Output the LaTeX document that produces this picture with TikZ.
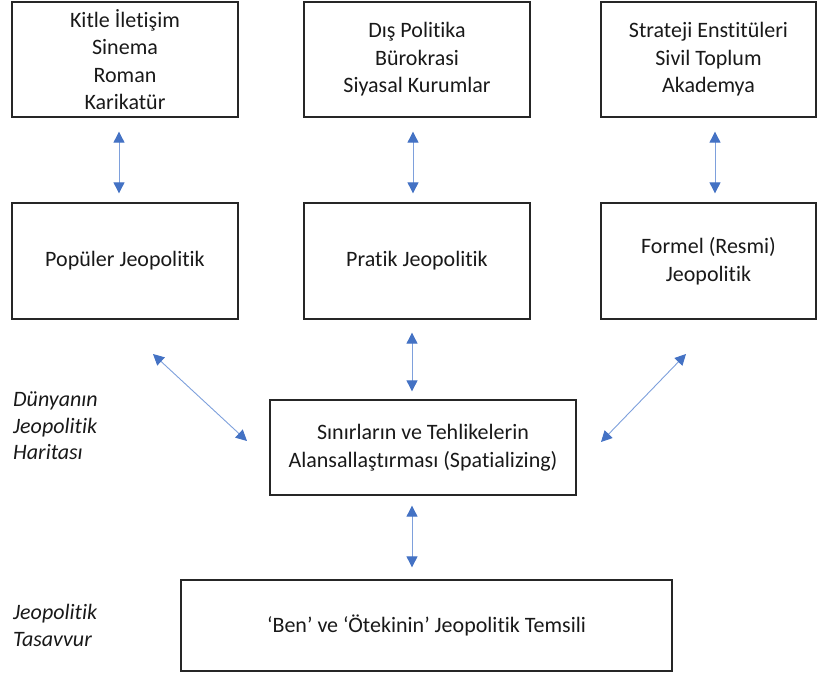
\documentclass[tikz,border=0pt]{standalone}
\usepackage{fontspec}
\setmainfont[Ligatures=NoCommon]{Carlito}
\usetikzlibrary{arrows.meta,calc}
\definecolor{arrblue}{HTML}{4472C4}
\definecolor{linblue}{HTML}{7EA0DC}
\begin{document}
\begin{tikzpicture}[x=1pt,y=-1pt,
  box/.style={draw=black!85, line width=1.3pt, inner sep=0pt, align=center,
    font=\fontsize{22}{27.5}\selectfont, text=black!90},
  arr/.style={draw=linblue, line width=0.9pt,
    {Triangle[length=11pt,width=11pt,fill=arrblue,color=arrblue]}-{Triangle[length=11pt,width=11pt,fill=arrblue,color=arrblue]}},
  side/.style={align=left, inner sep=0pt, anchor=west,
    font=\fontsize{22}{26.5}\selectfont\itshape, text=black!90}]
\useasboundingbox (0,0) rectangle (817,675);
% top row
\node[box, minimum width=226, minimum height=115] (A1) at (125,59.5) {Kitle İletişim\\Sinema\\Roman\\Karikatür};
\node[box, minimum width=226, minimum height=115] (A2) at (417,59.5) {Dış Politika\\Bürokrasi\\Siyasal Kurumlar};
\node[box, minimum width=215, minimum height=115] (A3) at (708.5,59.5) {Strateji Enstitüleri\\Sivil Toplum\\Akademya};
% middle row
\node[box, minimum width=226, minimum height=116] (B1) at (125,261) {Popüler Jeopolitik};
\node[box, minimum width=226, minimum height=116] (B2) at (417,261) {Pratik Jeopolitik};
\node[box, minimum width=215, minimum height=116] (B3) at (708.5,261) {Formel (Resmi)\\Jeopolitik};
% center
\node[box, minimum width=306, minimum height=95] (C) at (423,447.5) {Sınırların ve Tehlikelerin\\Alansallaştırması (Spatializing)};
% bottom
\node[box, minimum width=491, minimum height=91] (D) at (426.5,625.5) {‘Ben’ ve ‘Ötekinin’ Jeopolitik Temsili};
% side labels
\node[side] (L1) at (13,426) {Dünyanın\\Jeopolitik\\Haritası};
\node[side] (L2) at (13,625.5) {Jeopolitik\\Tasavvur};
% vertical arrows top
\draw[arr, shorten <=14pt, shorten >=9pt] ([xshift=-6]A1.south) -- ([xshift=-6]B1.north);
\draw[arr, shorten <=14pt, shorten >=9pt] ([xshift=-4]A2.south) -- ([xshift=-4]B2.north);
\draw[arr, shorten <=14pt, shorten >=9pt] ([xshift=6.5]A3.south) -- ([xshift=6.5]B3.north);
% middle vertical
\draw[arr, shorten <=13pt, shorten >=8pt] ([xshift=-5]B2.south) -- ([xshift=-11]C.north);
% bottom vertical
\draw[arr, shorten <=10pt, shorten >=12pt] ([xshift=-11]C.south) -- ([xshift=-14.5]D.north);
% diagonals
\coordinate (dl1) at (153,354);
\coordinate (dl2) at (247,441);
\coordinate (dr1) at (686,354);
\coordinate (dr2) at (601,442);
\draw[arr] (dl1) -- (dl2);
\draw[arr] (dr1) -- (dr2);
\end{tikzpicture}
\end{document}
